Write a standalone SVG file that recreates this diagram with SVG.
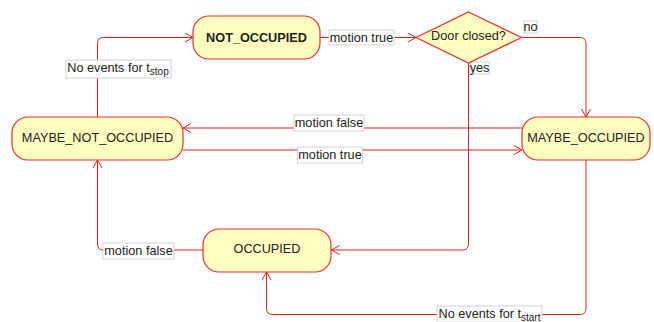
<svg xmlns="http://www.w3.org/2000/svg" width="654" height="322" viewBox="0 0 654 322">
<style>
.node{fill:#ffffc0;stroke:#e83030;stroke-width:1.2}
.t{font-family:"Liberation Sans",Arial,sans-serif;font-size:12.7px;fill:#222;text-anchor:middle}
.b{font-weight:bold}
.e{fill:none;stroke:#e02020;stroke-width:1}
.lb{fill:#fff;stroke:#c8c8c8;stroke-width:0.8}
.sub{font-size:10px}
</style>
<defs>
<marker id="ah" markerWidth="12" markerHeight="12" refX="9" refY="5" orient="auto" markerUnits="userSpaceOnUse">
<path d="M1,0.5 L9,5 L1,9.5" fill="none" stroke="#e02020" stroke-width="1"/>
</marker>
</defs>
<g id="edges">
<path class="e" d="M320,37.5 L416,37.5" marker-end="url(#ah)"/>
<path class="e" d="M521.5,37.5 L580,37.5 Q586,37.5 586,43.5 L586,117" marker-end="url(#ah)"/>
<path class="e" d="M468.5,63 L468.5,244 Q468.5,250 462.5,250 L331.5,250" marker-end="url(#ah)"/>
<path class="e" d="M522,128 L183,128" marker-end="url(#ah)"/>
<path class="e" d="M183,150 L522,150" marker-end="url(#ah)"/>
<path class="e" d="M97.5,117 L97.5,43.5 Q97.5,37.5 103.5,37.5 L193,37.5" marker-end="url(#ah)"/>
<path class="e" d="M203,250 L103.5,250 Q97.5,250 97.5,244 L97.5,160" marker-end="url(#ah)"/>
<path class="e" d="M586,160 L586,308.5 Q586,314.5 580,314.5 L272.5,314.5 Q266.5,314.5 266.5,308.5 L266.5,272" marker-end="url(#ah)"/>
<g id="labels">
<rect class="lb" x="329" y="30" width="65" height="15"/>
<text class="t" x="361.5" y="42">motion true</text>
<rect class="lb" x="524" y="21" width="13" height="12"/>
<text class="t" x="530.5" y="31">no</text>
<rect class="lb" x="470" y="62" width="19" height="12"/>
<text class="t" x="479.5" y="72">yes</text>
<rect class="lb" x="294" y="115" width="70" height="16"/>
<text class="t" x="329" y="127">motion false</text>
<rect class="lb" x="297.5" y="147" width="65" height="16"/>
<text class="t" x="330" y="159">motion true</text>
<rect class="lb" x="66" y="60" width="105" height="18"/>
<text class="t" x="118" y="72">No events for t<tspan class="sub" dy="3">stop</tspan></text>
<rect class="lb" x="103" y="243" width="71" height="16"/>
<text class="t" x="138.5" y="255">motion false</text>
<rect class="lb" x="437" y="306" width="105" height="16"/>
<text class="t" x="489.5" y="318">No events for t<tspan class="sub" dy="3">start</tspan></text>
</g>
</g>
<g id="NOT_OCCUPIED">
<rect class="node" x="193" y="16" width="127" height="43" rx="16"/>
<text class="t b" x="256.5" y="42">NOT_OCCUPIED</text>
</g>
<g id="DOOR_CLOSED">
<path class="node" d="M468.5,12 L521.5,37.5 L468.5,63 L416,37.5 Z"/>
<text class="t" x="468.5" y="40">Door closed?</text>
</g>
<g id="MAYBE_NOT_OCCUPIED">
<rect class="node" x="12" y="117" width="171" height="43" rx="16"/>
<text class="t" x="97.5" y="141.5">MAYBE_NOT_OCCUPIED</text>
</g>
<g id="MAYBE_OCCUPIED">
<rect class="node" x="522" y="117" width="128" height="43" rx="16"/>
<text class="t" x="586" y="141.5">MAYBE_OCCUPIED</text>
</g>
<g id="OCCUPIED">
<rect class="node" x="203" y="229" width="128" height="43" rx="16"/>
<text class="t" x="267" y="253">OCCUPIED</text>
</g>
</svg>
